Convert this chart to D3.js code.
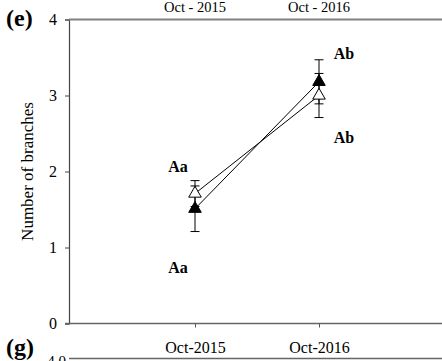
<!DOCTYPE html>
<html>
<head>
<meta charset="utf-8">
<script src="https://cdn.jsdelivr.net/npm/d3@7"></script>
<style>
  html, body { margin: 0; padding: 0; background: #fff; }
  svg { display: block; }
  text { font-family: "Liberation Serif", "Times New Roman", serif; fill: #000; }
  .panel { font-family: "Liberation Serif", serif; font-weight: 700; font-size: 24px; }
</style>
</head>
<body>
<svg id="chart" width="442" height="361"></svg>
<script>
// Sampling dates and the values per treatment
const dates = ["Oct-2015", "Oct-2016"];
const topDates = ["Oct - 2015", "Oct - 2016"];
const yTicks = [0, 1, 2, 3, 4];

const openMean = [1.71, 3.00];
const openErr = [0.17, 0.29];
const filledMean = [1.51, 3.18];
const filledErr = [0.30, 0.29];

// Significance letters (upper = above the points, lower = below)
const lettersUpper = ["Aa", "Ab"];
const lettersLower = ["Aa", "Ab"];

const svg = d3.select("#chart");
const W = 442, H = 361;
const axisX = 69;
const serif = "'Liberation Serif', 'Times New Roman', serif";

const x = d3.scalePoint().domain(dates).range([195, 319]);
const y = d3.scaleLinear().domain([0, 4]).range([323.5, 19.5]);

// Left axis
const yAxis = d3.axisLeft(y).tickValues(yTicks).tickSize(4).tickPadding(8)
  .tickFormat(d3.format("d"));
const gy = svg.append("g").attr("transform", `translate(${axisX},0)`).call(yAxis);
gy.select(".domain").attr("stroke", "#444").attr("stroke-width", 1.2);
gy.selectAll(".tick line").attr("stroke", "#444");
gy.selectAll(".tick text").attr("font-size", 16)
  .style("font-family", serif).attr("fill", "#000");

// Top frame line with date headings
svg.append("line").attr("x1", axisX).attr("x2", W).attr("y1", y(4)).attr("y2", y(4))
  .attr("stroke", "#808080").attr("stroke-width", 2);
svg.selectAll("text.top").data(topDates).join("text").attr("class", "top")
  .attr("x", (d, i) => x(dates[i])).attr("y", 12)
  .attr("text-anchor", "middle").attr("font-size", 14.5).text(d => d);

// Bottom axis
const xAxis = d3.axisBottom(x).tickSize(4).tickPadding(14);
const gx = svg.append("g").attr("transform", `translate(0,${y(0)})`).call(xAxis);
gx.select(".domain").remove();
gx.selectAll(".tick line").attr("stroke", "#555");
gx.selectAll(".tick text").attr("font-size", 16)
  .style("font-family", serif).attr("fill", "#000");
svg.append("line").attr("x1", axisX - 4).attr("x2", W).attr("y1", y(0)).attr("y2", y(0))
  .attr("stroke", "#666").attr("stroke-width", 1.5);

// Y axis title
svg.append("text")
  .attr("transform", `translate(33,${y(2)}) rotate(-90)`)
  .attr("text-anchor", "middle").attr("font-size", 17)
  .text("Number of branches");

// Panel letter
svg.append("text").attr("class", "panel").attr("x", 6).attr("y", 26)
  .style("font-family", serif).text("(e)");

// Connecting lines
const line = d3.line().x((d, i) => x(dates[i])).y(d => y(d));
svg.append("path").attr("d", line(openMean)).attr("fill", "none")
  .attr("stroke", "#000").attr("stroke-width", 1);
svg.append("path").attr("d", line(filledMean)).attr("fill", "none")
  .attr("stroke", "#000").attr("stroke-width", 1);

// Error bars
function errorBars(means, errs) {
  const g = svg.append("g").attr("stroke", "#000").attr("stroke-width", 1);
  means.forEach((m, i) => {
    const cx = x(dates[i]);
    g.append("line").attr("x1", cx).attr("x2", cx)
      .attr("y1", y(m - errs[i])).attr("y2", y(m + errs[i]));
    [m - errs[i], m + errs[i]].forEach(v => {
      g.append("line").attr("x1", cx - 4.5).attr("x2", cx + 4.5)
        .attr("y1", y(v)).attr("y2", y(v));
    });
  });
}
errorBars(openMean, openErr);
errorBars(filledMean, filledErr);

// Markers
const tri = d3.symbol().type(d3.symbolTriangle).size(68);
svg.selectAll("path.open").data(openMean).join("path").attr("class", "open")
  .attr("d", tri).attr("transform", (d, i) => `translate(${x(dates[i])},${y(d)})`)
  .attr("fill", "#fff").attr("stroke", "#000").attr("stroke-width", 1);
svg.selectAll("path.filled").data(filledMean).join("path").attr("class", "filled")
  .attr("d", tri).attr("transform", (d, i) => `translate(${x(dates[i])},${y(d)})`)
  .attr("fill", "#000").attr("stroke", "#000").attr("stroke-width", 1);

// Significance letters
const upperLevel = [1.99, 3.48];
const lowerLevel = [0.67, 2.37];
const letterShift = [-17, 25];
svg.selectAll("text.lu").data(lettersUpper).join("text").attr("class", "lu")
  .attr("x", (d, i) => x(dates[i]) + letterShift[i]).attr("y", (d, i) => y(upperLevel[i]))
  .attr("text-anchor", "middle").attr("font-size", 16).attr("font-weight", "bold").text(d => d);
svg.selectAll("text.ll").data(lettersLower).join("text").attr("class", "ll")
  .attr("x", (d, i) => x(dates[i]) + letterShift[i]).attr("y", (d, i) => y(lowerLevel[i]))
  .attr("text-anchor", "middle").attr("font-size", 16).attr("font-weight", "bold").text(d => d);

// Start of the next panel below
svg.append("text").attr("class", "panel").attr("x", 6).attr("y", 355)
  .style("font-family", serif).text("(g)");
svg.append("line").attr("x1", axisX).attr("x2", W).attr("y1", 358.5).attr("y2", 358.5)
  .attr("stroke", "#666").attr("stroke-width", 1.5);
svg.append("text").attr("x", 66).attr("y", 366).attr("text-anchor", "end")
  .attr("font-size", 15).text("4.0");
</script>
</body>
</html>
